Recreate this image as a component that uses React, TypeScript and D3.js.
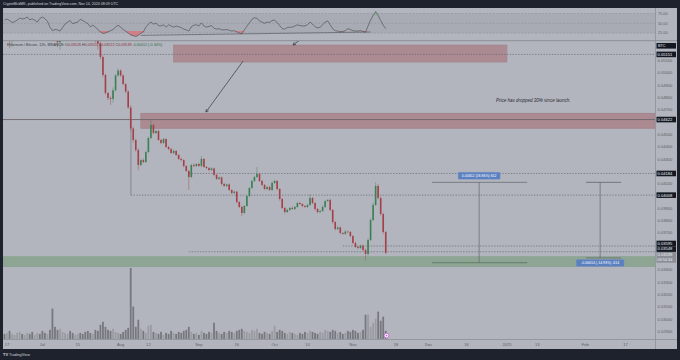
import * as React from 'react';
import * as d3 from 'd3';

// ETH/BTC candles, one per day starting Jun 16 2024
const DAY = 86400000;
const firstDay = Date.UTC(2024, 5, 16);

const closes = [
  0.0531, 0.0534, 0.0526, 0.0528, 0.0536, 0.0541, 0.0545, 0.0543, 0.0548, 0.0552,
  0.0549, 0.0546, 0.0551, 0.0555, 0.0549, 0.0541, 0.0537, 0.0542, 0.0538, 0.0531,
  0.0528, 0.0525, 0.0527, 0.0533, 0.0541, 0.0546, 0.0543, 0.0539, 0.0544, 0.0548,
  0.0545, 0.0540, 0.0536, 0.0533, 0.0529, 0.0532, 0.0527, 0.0524, 0.0513, 0.04984,
  0.04838, 0.04797, 0.04789, 0.0486, 0.0498, 0.0502, 0.0498, 0.0491, 0.0485, 0.0472,
  0.0455, 0.04456, 0.04375, 0.04253, 0.04293, 0.04277, 0.04358, 0.04472, 0.04578, 0.04513,
  0.04529, 0.04456, 0.04432, 0.04464, 0.04399, 0.04383, 0.0435, 0.04367, 0.04334, 0.04302,
  0.04293, 0.04245, 0.04204, 0.04155, 0.04253, 0.04245, 0.04261, 0.04245, 0.04302, 0.04237,
  0.04228, 0.04212, 0.04225, 0.04172, 0.0414, 0.04152, 0.04099, 0.04083, 0.04095, 0.0405,
  0.04026, 0.04036, 0.03952, 0.03912, 0.03863, 0.0392, 0.04001, 0.04066, 0.04123, 0.04155,
  0.0418, 0.04123, 0.04091, 0.04058, 0.04074, 0.0405, 0.04107, 0.04123, 0.04058, 0.03977,
  0.03904, 0.03871, 0.03888, 0.03904, 0.03896, 0.03912, 0.03944, 0.03936, 0.0392, 0.03912,
  0.03928, 0.03985, 0.03944, 0.03896, 0.03871, 0.03879, 0.03912, 0.0396, 0.03969, 0.03888,
  0.0379, 0.03733, 0.03745, 0.03701, 0.03693, 0.03712, 0.03709, 0.03676, 0.0362, 0.03587,
  0.03579, 0.03598, 0.03563, 0.0353, 0.03644, 0.03806, 0.03928, 0.04083, 0.03985, 0.03855,
  0.03709, 0.03539
];

// wick lengths beyond the body, in 0.00001 BTC
const upperWicks = [
  8, 10, 6, 12, 9, 7, 11, 8, 10, 6,
  9, 7, 12, 8, 6, 10, 9, 7, 11, 8,
  7, 9, 12, 10, 8, 6, 9, 11, 7, 10,
  8, 6, 9, 7, 10, 8, 12, 9, 15, 12,
  10, 8, 14, 22, 12, 18, 10, 9, 8, 12,
  20, 15, 10, 12, 9, 14, 10, 12, 40, 10,
  8, 12, 9, 10, 7, 9, 8, 11, 6, 9,
  8, 7, 6, 10, 9, 12, 8, 10, 24, 7,
  9, 8, 11, 7, 10, 6, 8, 9, 7, 8,
  6, 10, 8, 7, 12, 9, 10, 8, 11, 9,
  57, 8, 10, 7, 9, 12, 14, 10, 8, 7,
  9, 8, 10, 7, 12, 8, 9, 11, 7, 8,
  10, 30, 8, 9, 7, 10, 12, 9, 8, 10,
  7, 9, 8, 10, 6, 12, 9, 7, 8, 10,
  9, 8, 10, 12, 14, 18, 20, 32, 15, 12,
  10, 9
];

const lowerWicks = [
  7, 9, 60, 50, 8, 10, 7, 9, 8, 11,
  8, 10, 7, 9, 12, 8, 10, 7, 9, 12,
  10, 40, 60, 9, 8, 10, 7, 11, 8, 9,
  9, 8, 10, 7, 30, 12, 25, 50, 20, 18,
  15, 18, 49, 29, 10, 8, 12, 9, 14, 10,
  25, 20, 15, 43, 12, 10, 9, 8, 10, 12,
  9, 7, 10, 8, 9, 11, 7, 10, 8, 9,
  10, 12, 9, 105, 8, 10, 9, 7, 12, 8,
  9, 10, 7, 11, 8, 9, 12, 8, 10, 7,
  8, 10, 12, 9, 25, 10, 8, 9, 7, 10,
  8, 9, 10, 7, 12, 9, 8, 10, 9, 14,
  10, 12, 8, 9, 7, 10, 9, 8, 10, 7,
  9, 8, 10, 14, 12, 9, 7, 10, 8, 12,
  15, 12, 9, 10, 8, 7, 9, 10, 12, 9,
  10, 8, 12, 49, 15, 10, 8, 9, 12, 14,
  18, 10
];

const volumes = [
  5, 6, 8, 5, 4, 6, 7, 5, 4, 6,
  5, 7, 4, 6, 5, 8, 6, 5, 9, 30,
  12, 9, 10, 7, 6, 5, 8, 6, 4, 5,
  6, 5, 7, 8, 6, 5, 9, 8, 14, 17,
  12, 9, 8, 10, 7, 6, 5, 7, 9, 11,
  70, 32, 12, 19, 10, 8, 6, 13, 14, 7,
  6, 5, 7, 4, 6, 5, 8, 6, 5, 7,
  6, 8, 9, 12, 7, 5, 6, 4, 8, 6,
  5, 7, 6, 16, 8, 6, 5, 7, 6, 8,
  7, 6, 8, 9, 10, 8, 7, 6, 9, 8,
  10, 6, 5, 7, 6, 5, 8, 13, 7, 9,
  8, 6, 5, 7, 6, 5, 4, 6, 5, 7,
  6, 8, 7, 6, 5, 7, 6, 9, 8, 7,
  9, 8, 6, 7, 5, 6, 8, 7, 9, 8,
  6, 7, 9, 24, 24, 12, 16, 20, 27, 18,
  22, 8
];

const rsiValues = [
  58, 61, 57, 52, 54, 58, 63, 61, 62, 66,
  59, 61, 58, 53, 62, 66, 62, 55, 40, 31,
  34, 33, 30, 39, 48, 53, 57, 49, 51, 53,
  60, 57, 53, 49, 41, 45, 40, 34, 28, 24,
  25, 28, 31, 34, 40, 45, 40, 34, 30, 25,
  20, 18, 16, 19, 24, 28, 40, 48, 53, 48,
  50, 44, 43, 46, 40, 46, 43, 40, 43, 41,
  39, 35, 33, 30, 41, 45, 46, 43, 51, 43,
  40, 42, 44, 37, 35, 36, 33, 33, 34, 32,
  30, 31, 28, 25, 23, 33, 42, 51, 60, 64,
  63, 56, 53, 50, 53, 52, 57, 58, 52, 44,
  36, 35, 39, 40, 40, 43, 46, 44, 43, 43,
  46, 53, 48, 41, 38, 40, 46, 53, 56, 46,
  36, 31, 30, 28, 29, 31, 36, 34, 31, 30,
  30, 31, 29, 27, 43, 58, 70, 80, 70, 57,
  45, 36
];

const rsiLevels = [75, 50, 25];

const timeTicks = [
  ['2024-06-17', '17'], ['2024-07-01', 'Jul'], ['2024-07-15', '15'], ['2024-08-01', 'Aug'],
  ['2024-08-12', '12'], ['2024-09-01', 'Sep'], ['2024-09-16', '16'], ['2024-10-01', 'Oct'],
  ['2024-10-14', '14'], ['2024-11-01', 'Nov'], ['2024-11-18', '18'], ['2024-12-01', 'Dec'],
  ['2024-12-16', '16'], ['2025-01-01', '2025'], ['2025-01-13', '13'], ['2025-02-01', 'Feb'],
  ['2025-02-17', '17']
];

const priceBoxes = [
  { price: 0.05151, label: '0.05151' },
  { price: 0.04622, label: '0.04622' },
  { price: 0.04184, label: '0.04184' },
  { price: 0.04008, label: '0.04008' },
  { price: 0.03595, label: '0.03595' },
  { price: 0.03548, label: '0.03548' }
];
const lastPrice = { price: 0.03539, label: '0.03539', countdown: '03:50:34' };

const levels = [
  { price: 0.05151, from: null, dashed: true },
  { price: 0.04622, from: null, dashed: false },
  { price: 0.04184, from: '2024-08-28', dashed: true },
  { price: 0.04008, from: '2024-08-05', dashed: true },
  { price: 0.03595, from: '2024-10-28', dashed: true },
  { price: 0.03548, from: '2024-08-28', dashed: true }
];

const zones = [
  { top: 0.05227, bottom: 0.05089, from: '2024-08-22', to: '2025-01-01', kind: 'red' },
  { top: 0.04673, bottom: 0.04551, from: '2024-08-09', to: null, kind: 'red' },
  { top: 0.03508, bottom: 0.03427, from: null, to: null, kind: 'green' }
];

const arrows = [
  { from: ['2024-09-18T12:00:00Z', 0.05097], to: ['2024-09-03T19:00:00Z', 0.04683] },
  { from: ['2024-10-10T14:00:00Z', 0.05262], to: ['2024-10-08T07:00:00Z', 0.05228] }
];

const measures = [
  { from: '2024-12-02T07:00:00Z', to: '2025-01-09T00:00:00Z', mid: '2024-12-21T00:00:00Z',
    start: 0.03459, end: 0.04112, label: '0.00652 (18.86%) 652', above: true },
  { from: '2025-02-01T07:00:00Z', to: '2025-02-15T05:00:00Z', mid: '2025-02-06T22:00:00Z',
    start: 0.04112, end: 0.03498, label: '-0.00614 (-14.93%) -614', above: false }
];

const note = { date: '2024-12-27T17:00:00Z', price: 0.04761, text: 'Price has dropped 30% since launch.' };
const crashLine = { date: '2024-08-05T02:00:00Z', top: 0.04622, bottom: 0.04008 };
const rsiTrend = [['2024-08-09', 19], ['2024-11-08', 27.5]];

export default class App extends React.Component {
  svgRef = React.createRef<SVGSVGElement>();

  componentDidMount() {
    this.init();
  }

  init() {
    const svg = d3.select(this.svgRef.current);
    svg.selectAll('*').remove();

    const font = "'Liberation Sans', Arial, sans-serif";
    const left = 3, right = 655, axisRight = 677;
    const top = 8, rsiBottom = 40.7, mainTop = 41, mainBottom = 339, bottom = 349;
    const bg = '#b2b5bd', frame = '#1e222d';
    const upColor = '#3b7f54', downColor = '#a3404a';

    const x = d3.scaleUtc()
      .domain([new Date('2024-06-17T00:00:00Z'), new Date('2025-02-17T00:00:00Z')])
      .range([7, 625.6]);
    const y = d3.scaleLinear().domain([0.034, 0.051]).range([270, 60.7]);
    const yVol = d3.scaleLinear().domain([0, 70]).range([mainBottom, 268]);
    const yRsi = d3.scaleLinear().domain([25, 75]).range([33, 13.5]);

    const candles = closes.map((c, i) => {
      const o = i === 0 ? c + 0.0002 : closes[i - 1];
      return {
        date: new Date(firstDay + i * DAY),
        open: o,
        close: c,
        high: Math.max(o, c) + upperWicks[i] / 1e5,
        low: Math.min(o, c) - lowerWicks[i] / 1e5,
        volume: volumes[i],
        rsi: rsiValues[i]
      };
    });

    // frame and panels
    svg.append('rect').attr('width', 680).attr('height', 360).attr('fill', frame);
    svg.append('rect').attr('x', left).attr('y', top)
      .attr('width', axisRight - left).attr('height', bottom - top).attr('fill', bg);

    const defs = svg.append('defs');
    defs.append('clipPath').attr('id', 'clip-main').append('rect')
      .attr('x', left).attr('y', mainTop).attr('width', right - left).attr('height', mainBottom - mainTop);
    defs.append('clipPath').attr('id', 'clip-rsi').append('rect')
      .attr('x', left).attr('y', top).attr('width', right - left).attr('height', rsiBottom - top);

    // RSI pane
    const rsiG = svg.append('g').attr('clip-path', 'url(#clip-rsi)');
    rsiG.append('rect').attr('x', left).attr('width', right - left)
      .attr('y', yRsi(75)).attr('height', yRsi(25) - yRsi(75)).attr('fill', '#a8abb3');
    rsiG.selectAll('.lvl').data(rsiLevels).enter().append('line')
      .attr('x1', left).attr('x2', right)
      .attr('y1', d => yRsi(d)).attr('y2', d => yRsi(d))
      .attr('stroke', '#878a93').attr('stroke-width', 0.5).attr('stroke-dasharray', '2,1.5');

    const oversold = d3.area<any>()
      .x(d => x(d.date))
      .y0(yRsi(30))
      .y1(d => yRsi(Math.min(d.rsi, 30)));
    rsiG.append('path').datum(candles).attr('d', oversold).attr('fill', '#cf7f86');
    const overbought = d3.area<any>()
      .x(d => x(d.date))
      .y0(yRsi(70))
      .y1(d => yRsi(Math.max(d.rsi, 70)));
    rsiG.append('path').datum(candles).attr('d', overbought).attr('fill', '#7fb08c').attr('opacity', 0.6);

    rsiG.append('path').datum(rsiTrend)
      .attr('d', d3.line<any>().x(d => x(new Date(d[0] + 'T00:00:00Z'))).y(d => yRsi(d[1])))
      .attr('stroke', '#6b6e76').attr('stroke-width', 0.9).attr('fill', 'none');

    rsiG.append('path').datum(candles)
      .attr('d', d3.line<any>().x(d => x(d.date)).y(d => yRsi(d.rsi)))
      .attr('fill', 'none').attr('stroke', '#43464e').attr('stroke-width', 0.6);

    svg.selectAll('.rsilab').data(rsiLevels).enter().append('text')
      .attr('x', right + 3).attr('y', d => yRsi(d) + 1.4)
      .attr('font-family', font).attr('font-size', 3.8).attr('fill', '#5b5e67')
      .text(d => d.toFixed(2));

    // separators
    svg.append('line').attr('x1', left).attr('x2', axisRight).attr('y1', rsiBottom).attr('y2', rsiBottom)
      .attr('stroke', '#8c8f97').attr('stroke-width', 1);
    svg.append('line').attr('x1', right + 0.5).attr('x2', right + 0.5).attr('y1', top).attr('y2', bottom)
      .attr('stroke', '#8c8f97').attr('stroke-width', 0.8);
    svg.append('line').attr('x1', left).attr('x2', axisRight).attr('y1', mainBottom + 0.5).attr('y2', mainBottom + 0.5)
      .attr('stroke', '#8c8f97').attr('stroke-width', 0.8);

    // main pane
    const main = svg.append('g').attr('clip-path', 'url(#clip-main)');

    main.selectAll('.zone').data(zones).enter().append('rect')
      .attr('x', d => d.from ? x(new Date(d.from + 'T00:00:00Z')) : left)
      .attr('width', d => (d.to ? x(new Date(d.to + 'T00:00:00Z')) : right) - (d.from ? x(new Date(d.from + 'T00:00:00Z')) : left))
      .attr('y', d => y(d.top))
      .attr('height', d => y(d.bottom) - y(d.top))
      .attr('fill', d => d.kind === 'red' ? '#ab8a92' : '#8ea594')
      .attr('stroke', d => d.kind === 'red' ? '#a07f88' : '#86a08c')
      .attr('stroke-width', 0.6);

    main.selectAll('.level').data(levels).enter().append('line')
      .attr('x1', d => d.from ? x(new Date(d.from + 'T00:00:00Z')) : left)
      .attr('x2', right)
      .attr('y1', d => y(d.price)).attr('y2', d => y(d.price))
      .attr('stroke', d => d.dashed ? '#676a73' : '#6f666b')
      .attr('stroke-width', d => d.dashed ? 0.7 : 0.9)
      .attr('stroke-dasharray', d => d.dashed ? '1.4,1.4' : null);

    const crashDate = new Date(crashLine.date);
    main.append('line')
      .attr('x1', x(crashDate)).attr('x2', x(crashDate))
      .attr('y1', y(crashLine.top)).attr('y2', y(crashLine.bottom))
      .attr('stroke', '#676a73').attr('stroke-width', 0.6);

    // volume
    main.selectAll('.vol').data(candles).enter().append('rect')
      .attr('x', d => x(d.date) - 0.9).attr('width', 1.8)
      .attr('y', d => yVol(d.volume)).attr('height', d => mainBottom - yVol(d.volume))
      .attr('fill', d => d.close >= d.open ? '#9b9ca3' : '#76787e');

    // candles
    const candleG = main.selectAll('.candle').data(candles).enter().append('g');
    candleG.append('line')
      .attr('x1', d => x(d.date)).attr('x2', d => x(d.date))
      .attr('y1', d => y(d.high)).attr('y2', d => y(d.low))
      .attr('stroke', d => d.close >= d.open ? upColor : downColor)
      .attr('stroke-opacity', 0.7).attr('stroke-width', 0.6);
    candleG.append('rect')
      .attr('x', d => x(d.date) - 0.8).attr('width', 1.6)
      .attr('y', d => y(Math.max(d.open, d.close)))
      .attr('height', d => Math.max(0.6, Math.abs(y(d.open) - y(d.close))))
      .attr('fill', d => d.close >= d.open ? upColor : downColor);

    // drawings
    arrows.forEach(a => {
      const x1 = x(new Date(a.from[0] as string)), y1 = y(a.from[1] as number);
      const x2 = x(new Date(a.to[0] as string)), y2 = y(a.to[1] as number);
      const ang = Math.atan2(y2 - y1, x2 - x1);
      const head = 3;
      main.append('line').attr('x1', x1).attr('y1', y1).attr('x2', x2).attr('y2', y2)
        .attr('stroke', '#33363d').attr('stroke-width', 0.7);
      main.append('path')
        .attr('d', `M${x2 - head * Math.cos(ang - 0.5)},${y2 - head * Math.sin(ang - 0.5)}L${x2},${y2}L${x2 - head * Math.cos(ang + 0.5)},${y2 - head * Math.sin(ang + 0.5)}`)
        .attr('fill', 'none').attr('stroke', '#33363d').attr('stroke-width', 0.7);
    });

    measures.forEach(m => {
      const x1 = x(new Date(m.from)), x2 = x(new Date(m.to)), xm = x(new Date(m.mid));
      const ys = y(m.start), ye = y(m.end);
      main.append('line').attr('x1', x1).attr('x2', x2).attr('y1', ys).attr('y2', ys)
        .attr('stroke', m.above ? '#56705d' : '#61646c').attr('stroke-width', 0.8);
      main.append('line').attr('x1', x1).attr('x2', x2).attr('y1', ye).attr('y2', ye)
        .attr('stroke', '#61646c').attr('stroke-width', 0.7);
      main.append('line').attr('x1', xm).attr('x2', xm).attr('y1', ys).attr('y2', ye)
        .attr('stroke', '#61646c').attr('stroke-width', 0.7);
      const bw = m.label.length * 1.95 + 3;
      const by = m.above ? ye - 10 : ye + 1.5;
      main.append('rect').attr('x', xm - bw / 2).attr('y', by).attr('width', bw).attr('height', 7)
        .attr('rx', 0.8).attr('fill', '#5a80bf').attr('stroke', '#7d9bd0').attr('stroke-width', 0.4);
      main.append('text').attr('x', xm).attr('y', by + 4.8).attr('text-anchor', 'middle')
        .attr('font-family', font).attr('font-size', 3.5).attr('fill', '#ffffff')
        .text(m.label);
    });

    main.append('text')
      .attr('x', x(new Date(note.date))).attr('y', y(note.price))
      .attr('font-family', font).attr('font-size', 4.5).attr('font-style', 'italic')
      .attr('fill', '#2a2d33').text(note.text);

    // legend line
    const head = svg.append('text').attr('x', 7).attr('y', 45.6)
      .attr('font-family', font).attr('font-size', 3.7).attr('fill', '#3b3e45');
    head.append('tspan').text('Ethereum / Bitcoin, 12h, BINANCE  ');
    const last = candles[candles.length - 1];
    [['O', '0.03526'], ['H', '0.03551'], ['L', '0.03522'], ['C', '0.03539']].forEach(([k, v]) => {
      head.append('tspan').text(' ' + k);
      head.append('tspan').attr('fill', last.close >= last.open ? '#2f6e46' : '#8e2f39').text(v + ' ');
    });
    head.append('tspan').attr('fill', '#2f6e46').text(' -0.00012 (-0.34%)');

    // price axis
    const boxH = 5.6;
    const placed: { y: number; label: string; h: number; dark: boolean; sub?: string }[] = [];
    placed.push({ y: y(lastPrice.price) + 1.8, label: lastPrice.label, h: 11, dark: false, sub: lastPrice.countdown });
    const sortedBoxes = priceBoxes.slice().sort((a, b) => a.price - b.price);
    let limit = placed[0].y - 2.8;
    sortedBoxes.forEach(b => {
      let cy = y(b.price);
      if (cy + boxH / 2 > limit) cy = limit - boxH / 2;
      placed.push({ y: cy, label: b.label, h: boxH, dark: true });
      limit = cy - boxH / 2;
    });

    const ticks = d3.range(29, 52).map(v => v / 1000)
      .filter(p => y(p) > 50 && y(p) < mainBottom - 3)
      .filter(p => placed.every(b => Math.abs(y(p) - b.y) > 5.5));
    svg.selectAll('.ptick').data(ticks).enter().append('text')
      .attr('x', right + 2.5).attr('y', d => y(d) + 1.4)
      .attr('font-family', font).attr('font-size', 4.1).attr('fill', '#5b5e67')
      .text(d => d.toFixed(5));

    svg.append('rect').attr('x', right + 1.5).attr('y', 43).attr('width', 19.5).attr('height', boxH)
      .attr('fill', '#131722');
    svg.append('text').attr('x', right + 3).attr('y', 47.3)
      .attr('font-family', font).attr('font-size', 3.8).attr('fill', '#e8e9ee').text('BTC');

    placed.forEach(b => {
      const top0 = b.sub ? b.y - 3 : b.y - b.h / 2;
      svg.append('rect').attr('x', right + 1.5).attr('y', top0).attr('width', 19.5).attr('height', b.h)
        .attr('fill', b.dark ? '#131722' : '#8b8e97');
      svg.append('text').attr('x', right + 2.5).attr('y', b.y + 1.4)
        .attr('font-family', font).attr('font-size', 4.1).attr('fill', '#f2f3f5').text(b.label);
      if (b.sub) {
        svg.append('text').attr('x', right + 2.5).attr('y', b.y + 5.9)
          .attr('font-family', font).attr('font-size', 3.8).attr('fill', '#f2f3f5').text(b.sub);
      }
    });

    // time axis
    svg.selectAll('.ttick').data(timeTicks).enter().append('text')
      .attr('x', d => x(new Date(d[0] + 'T00:00:00Z'))).attr('y', 345.6)
      .attr('text-anchor', 'middle')
      .attr('font-family', font).attr('font-size', 4.1).attr('fill', '#5b5e67')
      .text(d => d[1]);

    // event marker
    svg.append('circle').attr('cx', x(last.date) + 0.8).attr('cy', 335.6).attr('r', 2.4)
      .attr('fill', '#f4eef6').attr('stroke', '#c25fd0').attr('stroke-width', 0.8);
    svg.append('circle').attr('cx', x(last.date) + 0.8).attr('cy', 335.6).attr('r', 0.8)
      .attr('fill', '#c25fd0');

    // title and footer
    svg.append('text').attr('x', 3).attr('y', 5.4)
      .attr('font-family', font).attr('font-size', 3.6).attr('fill', '#d1d4dc')
      .text('CryptoMcbMK, published on TradingView.com, Nov 14, 2024 08:09 UTC');
    svg.append('text').attr('x', 3).attr('y', 356.3)
      .attr('font-family', font).attr('font-size', 4).attr('font-weight', 'bold').attr('fill', '#d1d4dc')
      .text('TV');
    svg.append('text').attr('x', 9).attr('y', 356.3)
      .attr('font-family', font).attr('font-size', 3.8).attr('fill', '#d1d4dc')
      .text('TradingView');
  }

  render() {
    return (
      <svg ref={this.svgRef} width={680} height={360}
        style={{ position: 'absolute', left: 0, top: 0, display: 'block' }} />
    );
  }
}
